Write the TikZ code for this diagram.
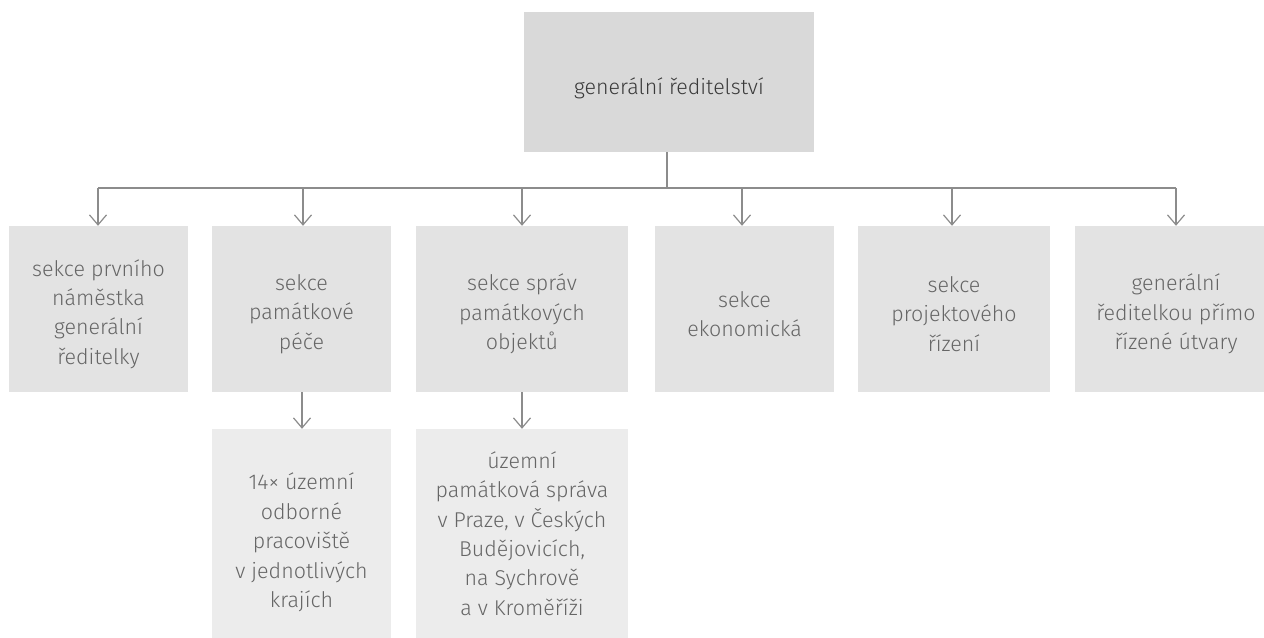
\documentclass[tikz,border=0pt]{standalone}
\usepackage{fontspec}
\setmainfont{Fira Sans Light}
\usetikzlibrary{arrows.meta}
\definecolor{topfill}{HTML}{D9D9D9}
\definecolor{secfill}{HTML}{E3E3E3}
\definecolor{subfill}{HTML}{ECECEC}
\definecolor{linecol}{HTML}{8C8C8C}
\definecolor{txtcol}{HTML}{666666}
\definecolor{toptxt}{HTML}{3A3A3A}
\tikzset{
  box/.style={fill=#1, draw=none, inner sep=0pt},
  arr/.style={draw=linecol, line width=1.2bp, -{Straight Barb[length=10bp,width=17bp,line width=1.2bp]}},
  bus/.style={draw=linecol, line width=1.2bp},
  txt/.style={inner sep=0pt, align=center, text=txtcol, font=\fontsize{21.5}{29.5}\selectfont},
}
\begin{document}
\begin{tikzpicture}[x=1bp,y=-1bp]
\useasboundingbox[fill=white] (0,0) rectangle (1264,638);
% top
\node[box=topfill, minimum width=290bp, minimum height=140bp] (top) at (669,82) {};
\node[txt, text=toptxt] (topt) at ([yshift=-6bp]top.center) {generální ředitelství};
% sections
\node[box=secfill, minimum width=179bp, minimum height=166bp] (s1) at (98.5,309) {};
\node[box=secfill, minimum width=179bp, minimum height=166bp] (s2) at (301.5,309) {};
\node[box=secfill, minimum width=212bp, minimum height=166bp] (s3) at (522,309) {};
\node[box=secfill, minimum width=179bp, minimum height=166bp] (s4) at (744.5,309) {};
\node[box=secfill, minimum width=192bp, minimum height=166bp] (s5) at (954,309) {};
\node[box=secfill, minimum width=202bp, minimum height=166bp] (s6) at (1176,309) {};
\node[txt] (s1t) at ([yshift=-5bp]s1.center) {sekce prvního\\náměstka\\generální\\ředitelky};
\node[txt] (s2t) at ([yshift=-5bp]s2.center) {sekce\\památkové\\péče};
\node[txt] (s3t) at ([yshift=-5bp]s3.center) {sekce správ\\památkových\\objektů};
\node[txt] (s4t) at ([yshift=-5bp]s4.center) {sekce\\ekonomická};
\node[txt] (s5t) at ([yshift=-5bp]s5.center) {sekce\\projektového\\řízení};
\node[txt] (s6t) at ([yshift=-5bp]s6.center) {generální\\ředitelkou přímo\\řízené útvary};
% sub boxes
\node[box=subfill, minimum width=179bp, minimum height=209bp] (u1) at (301.5,533.5) {};
\node[box=subfill, minimum width=212bp, minimum height=209bp] (u2) at (522,533.5) {};
\node[txt] (u1t) at ([yshift=-9bp]u1.center) {14× územní\\odborné\\pracoviště\\v jednotlivých\\krajích};
\node[txt] (u2t) at (u2.center) {územní\\památková správa\\v Praze, v Českých\\Budějovicích,\\na Sychrově\\a v Kroměříži};
% bus
\coordinate (j) at (667,188);
\coordinate (b1) at (98,188);
\coordinate (b2) at (303,188);
\coordinate (b3) at (522,188);
\coordinate (b4) at (742,188);
\coordinate (b5) at (952,188);
\coordinate (b6) at (1176,188);
\draw[bus] (top.south -| j) -- (j);
\draw[bus] (b1) -- (b6);
\draw[arr] (b1) -- (b1 |- s1.north);
\draw[arr] (b2) -- (b2 |- s2.north);
\draw[arr] (b3) -- (b3 |- s3.north);
\draw[arr] (b4) -- (b4 |- s4.north);
\draw[arr] (b5) -- (b5 |- s5.north);
\draw[arr] (b6) -- (b6 |- s6.north);
\coordinate (c2) at (302,0);
\draw[arr] (s2.south -| c2) -- (u1.north -| c2);
\draw[arr] (s3.south) -- (u2.north);
\end{tikzpicture}
\end{document}
